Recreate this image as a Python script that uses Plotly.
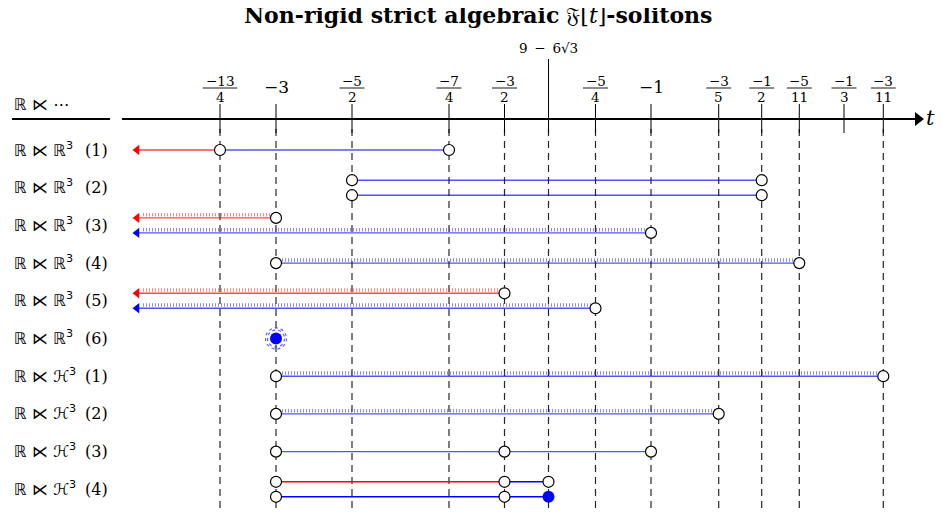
import math
import plotly.graph_objects as go

# ---------------- data ----------------
TITLE = "<b>Non-rigid strict algebraic</b> 𝔉[<i>t</i>]<b>-solitons</b>"
HEADER = "ℝ\u2004⋉\u2004⋯"
AXIS_VAR = "t"

TICK_LABELS = ["−13/4", "−3", "−5/2", "−7/4", "−3/2", "9\u2002−\u20026√3", "−5/4", "−1",
               "−3/5", "−1/2", "−5/11", "−1/3", "−3/11"]
TICK_VALUES = [-13/4, -3, -5/2, -7/4, -3/2, 9 - 6*math.sqrt(3), -5/4, -1,
               -3/5, -1/2, -5/11, -1/3, -3/11]
GUIDE_LINE = [True, True, True, True, True, True, True, True,
              True, True, True, False, True]

ROW_SPACES = ["ℝ\u2004⋉\u2004ℝ<sup>3</sup>"] * 6 + ["ℝ\u2004⋉\u2004ℋ<sup>3</sup>"] * 4
ROW_INDEX = ["(1)", "(2)", "(3)", "(4)", "(5)", "(6)", "(1)", "(2)", "(3)", "(4)"]

NEG_INF = None
S3 = 9 - 6*math.sqrt(3)
# (row, lane, start, end, kind, hatched)  lane: -1 upper, 0 single, 1 lower
SEGMENTS = [
    (0, 0, NEG_INF, -13/4, "red", False),
    (0, 0, -13/4, -7/4, "blue", False),
    (1, -1, -5/2, -1/2, "blue", False),
    (1, 1, -5/2, -1/2, "blue", False),
    (2, -1, NEG_INF, -3, "red", True),
    (2, 1, NEG_INF, -1, "blue", True),
    (3, 0, -3, -5/11, "blue", True),
    (4, -1, NEG_INF, -3/2, "red", True),
    (4, 1, NEG_INF, -5/4, "blue", True),
    (6, 0, -3, -3/11, "blue", True),
    (7, 0, -3, -3/5, "blue", True),
    (8, 0, -3, -1, "blue", False),
    (9, -1, -3, -3/2, "red2", False),
    (9, -1, -3/2, S3, "blue2", False),
    (9, 1, -3, S3, "blue2", False),
]
OPEN_POINTS = [
    (0, 0, -13/4), (0, 0, -7/4),
    (1, -1, -5/2), (1, -1, -1/2), (1, 1, -5/2), (1, 1, -1/2),
    (2, -1, -3), (2, 1, -1),
    (3, 0, -3), (3, 0, -5/11),
    (4, -1, -3/2), (4, 1, -5/4),
    (6, 0, -3), (6, 0, -3/11),
    (7, 0, -3), (7, 0, -3/5),
    (8, 0, -3), (8, 0, -3/2), (8, 0, -1),
    (9, -1, -3), (9, -1, -3/2), (9, -1, S3),
    (9, 1, -3), (9, 1, -3/2),
]
FILLED_POINTS = [(5, 0, -3, True), (9, 1, S3, False)]  # (row, lane, t, halo)

# ---------------- layout (schematic positions) ----------------
W, H = 943, 516
PAGE_MARGIN = 8  # browser body margin around the plot div
TICK_PX = [220, 276, 352, 449, 504.5, 548.5, 595.5, 651, 718.7, 761.7, 799.3, 844, 883.3]
AXIS_Y = 119
ROW_Y0, ROW_DY, LANE_DY = 150, 37.7, 7.5
ARROW_TIP = 132
COLORS = {"red": "rgba(255,0,0,0.72)", "blue": "rgba(0,0,255,0.68)",
          "red2": "rgb(255,0,0)", "blue2": "rgb(0,0,255)"}
ARROWC = {"red": "rgb(255,0,0)", "blue": "rgb(0,0,255)"}
HATCH = {"red": "rgba(255,40,40,0.55)", "blue": "rgba(40,40,255,0.55)"}
SERIF = "DejaVu Serif, Liberation Serif, serif"
MATH = "DejaVu Sans, DejaVu Serif, sans-serif"


def xpos(t):
    if t is None:
        return ARROW_TIP
    i = min(range(len(TICK_VALUES)), key=lambda k: abs(TICK_VALUES[k] - t))
    return TICK_PX[i]


def ypos(row, lane):
    return ROW_Y0 + ROW_DY * row + LANE_DY * lane


def strwidth(s, size):
    w = 0
    for ch in s:
        w += 0.84 if ch == "−" else 0.64
    return w * size


fig = go.Figure()
shapes, ann = [], []

# guide dashed lines
gx, gy = [], []
for px, g in zip(TICK_PX, GUIDE_LINE):
    if g:
        gx += [px, px, None]
        gy += [129, H, None]
fig.add_trace(go.Scatter(x=gx, y=gy, mode="lines",
                         line=dict(color="rgba(0,0,0,0.85)", width=1.2, dash="7px,5px"),
                         hoverinfo="skip"))

# ticks
tx, ty = [], []
for lab, px in zip(TICK_LABELS, TICK_PX):
    top = 59 if "√" in lab else 104
    tx += [px, px, None]
    ty += [top, 133, None]
fig.add_trace(go.Scatter(x=tx, y=ty, mode="lines", line=dict(color="black", width=1),
                         hoverinfo="skip"))

# axis
fig.add_trace(go.Scatter(x=[122, 916], y=[AXIS_Y, AXIS_Y], mode="lines",
                         line=dict(color="black", width=2.2), hoverinfo="skip"))
fig.add_trace(go.Scatter(x=[918], y=[AXIS_Y], mode="markers",
                         marker=dict(symbol="triangle-right", size=12, color="black"),
                         hoverinfo="skip"))
fig.add_trace(go.Scatter(x=[12, 110], y=[AXIS_Y, AXIS_Y], mode="lines",
                         line=dict(color="black", width=2.2), hoverinfo="skip"))

# tick labels
FS = 13.5
for lab, px in zip(TICK_LABELS, TICK_PX):
    if "/" in lab:
        num, den = lab.split("/")
        ann.append(dict(x=px, y=80.5, text=num, showarrow=False,
                        font=dict(family=SERIF, size=FS, color="black")))
        ann.append(dict(x=px, y=97, text=den, showarrow=False,
                        font=dict(family=SERIF, size=FS, color="black")))
        half = (max(strwidth(num, FS), strwidth(den, FS)) * 1.1 + 3) / 2
        shapes.append(dict(type="line", xref="x", yref="y", x0=px - half, x1=px + half,
                           y0=88, y1=88, line=dict(color="black", width=0.9)))
    elif "√" in lab:
        ann.append(dict(x=px, y=48, text=lab, showarrow=False,
                        font=dict(family=SERIF, size=13.5, color="black")))
    else:
        ann.append(dict(x=px, y=87, text=lab, showarrow=False,
                        font=dict(family=SERIF, size=17, color="black")))

# segments
for row, lane, a, b, kind, hatched in SEGMENTS:
    y = ypos(row, lane)
    x0, x1 = xpos(a), xpos(b)
    base = kind.rstrip("2")
    if hatched:
        hx0 = x0 + (11 if a is None else 0)
        fig.add_trace(go.Scatter(x=[hx0, x1], y=[y - 3.2, y - 3.2], mode="lines",
                                 line=dict(color=HATCH[base], width=3.5, dash="1px,2px"),
                                 hoverinfo="skip"))
    lx0 = x0 + (6 if a is None else 0)
    fig.add_trace(go.Scatter(x=[lx0, x1], y=[y, y], mode="lines",
                             line=dict(color=COLORS[kind], width=1.4), hoverinfo="skip"))
    if a is None:
        fig.add_trace(go.Scatter(x=[x0 + 5], y=[y], mode="markers",
                                 marker=dict(symbol="triangle-left", size=9,
                                             color=ARROWC[base], line=dict(width=0)),
                                 hoverinfo="skip"))

# filled points
for row, lane, t, halo in FILLED_POINTS:
    x, y = xpos(t), ypos(row, lane)
    if halo:
        for r in (10.5, 8.5):
            shapes.append(dict(type="circle", xref="x", yref="y", x0=x - r, x1=x + r,
                               y0=y - r, y1=y + r,
                               line=dict(color="rgba(40,40,255,0.75)", width=1.2, dash="dot")))
    fig.add_trace(go.Scatter(x=[x], y=[y], mode="markers",
                             marker=dict(size=12, color="blue", line=dict(width=0)),
                             hoverinfo="skip"))

# open points
fig.add_trace(go.Scatter(x=[xpos(t) for _, _, t in OPEN_POINTS],
                         y=[ypos(r, l) for r, l, _ in OPEN_POINTS], mode="markers",
                         marker=dict(size=11, color="white", line=dict(color="black", width=1.2)),
                         hoverinfo="skip"))

# row labels
for i, (sp, idx) in enumerate(zip(ROW_SPACES, ROW_INDEX)):
    ann.append(dict(x=12, y=ypos(i, 0) - 1, text=sp, showarrow=False, xanchor="left",
                    font=dict(family=MATH, size=16, color="black")))
    ann.append(dict(x=110, y=ypos(i, 0), text=idx, showarrow=False, xanchor="right",
                    font=dict(family=SERIF, size=16, color="black")))
ann.append(dict(x=12, y=104, text=HEADER, showarrow=False, xanchor="left",
                font=dict(family=MATH, size=16, color="black")))
ann.append(dict(x=930, y=AXIS_Y - 1, text=f"<i>{AXIS_VAR}</i>", showarrow=False,
                font=dict(family=SERIF, size=21, color="black")))
ann.append(dict(x=478, y=15, text=TITLE, showarrow=False,
                font=dict(family=SERIF, size=22, color="black")))

fig.update_layout(
    width=W - PAGE_MARGIN, height=H - 2 * PAGE_MARGIN, margin=dict(l=0, r=0, t=0, b=0),
    plot_bgcolor="white", paper_bgcolor="white", showlegend=False,
    xaxis=dict(range=[PAGE_MARGIN, W], visible=False, fixedrange=True),
    yaxis=dict(range=[H - PAGE_MARGIN, PAGE_MARGIN], visible=False, fixedrange=True),
    shapes=shapes, annotations=ann,
)
fig.write_html("out.html")
